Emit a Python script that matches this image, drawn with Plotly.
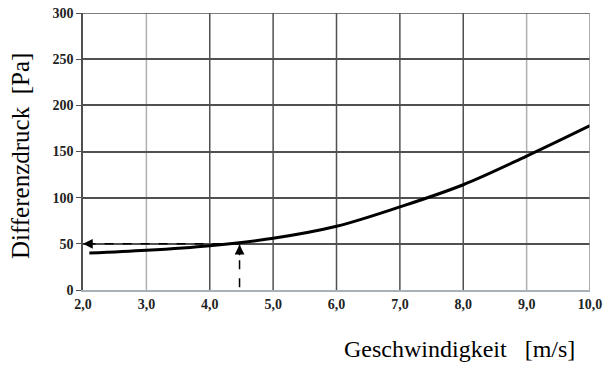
import plotly.graph_objects as go

# Data
speed = [2.1, 3.0, 4.0, 5.0, 6.0, 7.0, 8.0, 9.0, 10.0]
pressure = [40, 43, 48, 56, 69, 90, 114, 145, 178]
x_ticks = [2, 3, 4, 5, 6, 7, 8, 9, 10]
x_tick_labels = ["2,0", "3,0", "4,0", "5,0", "6,0", "7,0", "8,0", "9,0", "10,0"]
y_ticks = [0, 50, 100, 150, 200, 250, 300]
light_grid_x = [3, 9]
dark_grid_x = [4, 5, 6, 7, 8]
read_speed = 4.47
read_pressure = 50
arrow_start_y = 3

font_serif = "Liberation Serif, Times New Roman, serif"

fig = go.Figure()

# vertical gridlines
for gx in light_grid_x:
    fig.add_shape(type="line", x0=gx, x1=gx, y0=0, y1=300, xref="x", yref="y",
                  line=dict(color="#b0b0b0", width=1.5), layer="below")
for gx in dark_grid_x:
    fig.add_shape(type="line", x0=gx, x1=gx, y0=0, y1=300, xref="x", yref="y",
                  line=dict(color="#505050", width=1.5), layer="below")

# dashed reading lines
fig.add_trace(go.Scatter(x=[read_speed, 2.0], y=[read_pressure, read_pressure], mode="lines",
                         line=dict(color="black", width=1.5, dash="dash"), showlegend=False,
                         hoverinfo="skip"))
fig.add_trace(go.Scatter(x=[read_speed, read_speed], y=[arrow_start_y, read_pressure - 1], mode="lines",
                         line=dict(color="black", width=1.5, dash="dash"), showlegend=False,
                         hoverinfo="skip"))

# curve
fig.add_trace(go.Scatter(x=speed, y=pressure, mode="lines",
                         line=dict(color="black", width=3, shape="spline", smoothing=1.0),
                         showlegend=False))

# arrowheads
fig.add_annotation(x=2.0, y=read_pressure, ax=2.15, ay=read_pressure, xref="x", yref="y",
                   axref="x", ayref="y", showarrow=True, arrowhead=2, arrowsize=1.3,
                   arrowwidth=1.5, arrowcolor="black", text="")
fig.add_annotation(x=read_speed, y=read_pressure - 1, ax=read_speed, ay=read_pressure - 14,
                   xref="x", yref="y", axref="x", ayref="y", showarrow=True, arrowhead=2,
                   arrowsize=1.3, arrowwidth=1.5, arrowcolor="black", text="")

# axis titles
fig.add_annotation(text="Differenzdruck  [Pa]", xref="paper", yref="paper", x=-0.122, y=0.484,
                   xanchor="center", yanchor="middle", textangle=-90, showarrow=False,
                   font=dict(family=font_serif, size=25, color="black"))
fig.add_annotation(text="Geschwindigkeit   [m/s]", xref="paper", yref="paper", x=0.974, y=-0.213,
                   xanchor="right", yanchor="middle", showarrow=False,
                   font=dict(family=font_serif, size=24, color="black"))

tick_font = dict(family=font_serif, size=14, color="#222")

fig.update_layout(
    width=608, height=365,
    margin=dict(l=83, r=18, t=13, b=75),
    paper_bgcolor="white", plot_bgcolor="white",
    xaxis=dict(range=[2, 10], tickvals=x_ticks, ticktext=["<b>%s</b>" % t for t in x_tick_labels],
               showgrid=False, automargin=False,
               zeroline=False, showline=True, linecolor="#a8b0b8", linewidth=1.5, mirror=False,
               ticks="", tickfont=tick_font),
    yaxis=dict(range=[0, 300], tickvals=y_ticks, ticktext=["<b>%d</b>" % v for v in y_ticks],
               showgrid=True, gridcolor="#505050", gridwidth=1.5, automargin=False,
               zeroline=False, showline=True, linecolor="#505050", linewidth=1.5, mirror=False,
               ticks="outside", ticklen=5, tickcolor="#505050", tickfont=tick_font),
)
# border (top/right) lines
fig.add_shape(type="line", x0=2, x1=10, y0=300, y1=300, xref="x", yref="y",
              line=dict(color="#505050", width=1.5))
fig.add_shape(type="line", x0=10, x1=10, y0=0, y1=300, xref="x", yref="y",
              line=dict(color="#909090", width=1.5))

fig.write_html("out.html", config={"displayModeBar": False},
               post_script="document.body.style.margin='0';document.body.style.overflow='hidden';")
